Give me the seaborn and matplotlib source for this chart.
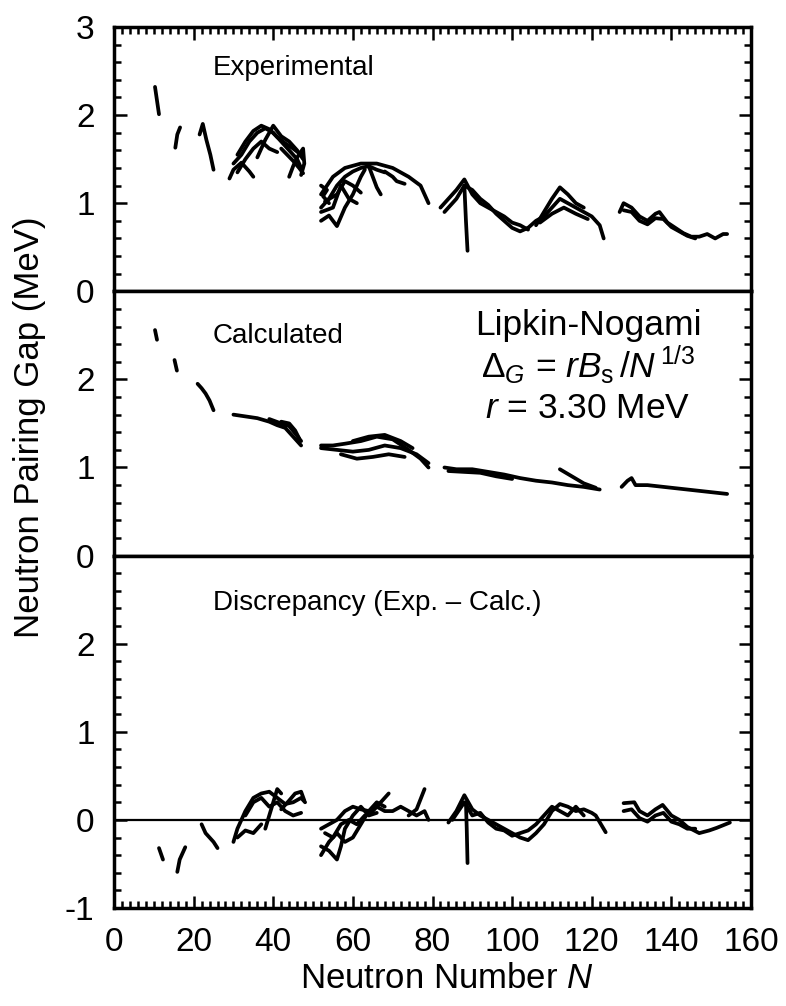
import numpy as np
import pandas as pd
import matplotlib
matplotlib.use("Agg")
import matplotlib.pyplot as plt
import seaborn as sns
from matplotlib.ticker import MultipleLocator

sns.set_theme(style="white")
plt.rcParams['font.family'] = ['Liberation Sans', 'DejaVu Sans']
plt.rcParams['mathtext.fontset'] = 'custom'
plt.rcParams['mathtext.rm'] = 'Liberation Sans'
plt.rcParams['mathtext.it'] = 'Liberation Sans:italic'
plt.rcParams['mathtext.bf'] = 'Liberation Sans:bold'
plt.rcParams['text.color'] = 'black'
plt.rcParams['axes.labelcolor'] = 'black'
plt.rcParams['xtick.color'] = 'black'
plt.rcParams['ytick.color'] = 'black'

# ---------------- data: (N, gap in MeV) ----------------
# Experimental
EXP_1 = [(10.3, 2.32), (11.3, 2.01)]
EXP_2 = [(15.4, 1.63), (15.9, 1.78), (16.6, 1.86)]
EXP_3 = [(21.5, 1.78), (22.3, 1.9), (23.2, 1.72), (24.2, 1.55), (25.0, 1.38)]
EXP_4 = [(30, 1.45), (32, 1.55), (34, 1.7), (36, 1.8), (38, 1.85), (40, 1.8), (42, 1.7), (44, 1.6), (46, 1.5), (47, 1.4)]
EXP_5 = [(31, 1.55), (33, 1.7), (35, 1.82), (37, 1.88), (39, 1.84), (41, 1.75), (43, 1.68), (45, 1.62), (47, 1.55)]
EXP_6 = [(29, 1.28), (30, 1.38), (32, 1.46), (34, 1.36), (35, 1.3)]
EXP_7 = [(36, 1.52), (38, 1.72), (40, 1.88), (42, 1.76), (44, 1.7), (46, 1.6), (47.5, 1.5)]
EXP_8 = [(31, 1.35), (33, 1.5), (35, 1.62), (37, 1.7), (39, 1.62), (41, 1.58)]
EXP_9 = [(44, 1.3), (45, 1.42), (46, 1.52), (47.5, 1.62), (47.8, 1.45), (47, 1.32)]
EXP_9B = [(42, 1.62), (43.5, 1.55), (45, 1.48), (46.5, 1.4), (47.5, 1.34)]
EXP_10 = [(52, 1.1), (55, 1.3), (58, 1.4), (62, 1.45), (66, 1.45), (70, 1.4), (74, 1.3), (77, 1.2), (79, 1.0)]
EXP_11 = [(52, 0.95), (54, 1.05), (56, 1.2), (58, 1.3), (60, 1.36), (62, 1.4), (64, 1.42), (66, 1.38), (68, 1.35)]
EXP_12 = [(52, 0.8), (54, 0.86), (56, 0.74), (58, 0.95), (60, 1.1), (62, 1.3), (63, 1.38)]
EXP_13 = [(52, 0.9), (55, 0.95), (57, 1.2), (59, 1.05), (61, 1.0)]
EXP_14 = [(53, 1.02), (56, 1.1), (58, 1.25), (60, 1.2), (62, 1.12)]
EXP_14B = [(52, 1.2), (53.5, 1.15), (52.5, 1.08), (54, 1.0)]
EXP_15 = [(64, 1.42), (65, 1.3), (66, 1.18), (67, 1.1)]
EXP_16 = [(68, 1.36), (70, 1.3), (71, 1.25), (73, 1.22)]
EXP_17 = [(82, 0.95), (84, 1.05), (86, 1.15), (88, 1.27), (90, 1.1), (92, 1.0), (94, 0.95), (96, 0.9), (98, 0.85), (100, 0.78), (102, 0.75), (104, 0.7)]
EXP_18 = [(83, 0.9), (86, 1.05), (88, 1.2), (90, 1.15), (92, 1.05), (94, 0.98), (96, 0.88), (98, 0.8), (100, 0.72), (102, 0.68), (104, 0.72)]
EXP_19 = [(88, 1.2), (88.4, 0.8), (88.8, 0.46)]
EXP_20 = [(104, 0.72), (106, 0.8), (108, 0.85), (110, 0.95), (112, 1.05), (114, 1.0), (116, 0.95), (118, 0.9), (120, 0.85), (122, 0.75), (123, 0.6)]
EXP_21 = [(106, 0.75), (108, 0.9), (110, 1.05), (112, 1.18), (114, 1.1), (116, 1.0), (118, 0.95)]
EXP_22 = [(107, 0.78), (110, 0.88), (113, 0.95), (116, 0.88), (119, 0.82)]
EXP_23 = [(127, 0.9), (128, 1.0), (130, 0.95), (132, 0.85), (134, 0.8), (136, 0.88), (137, 0.9), (139, 0.78), (141, 0.72), (143, 0.66), (145, 0.62), (147, 0.62), (149, 0.65), (151, 0.6), (153, 0.65), (154, 0.65)]
EXP_24 = [(128, 0.92), (130, 0.9), (132, 0.8), (134, 0.76), (136, 0.83), (138, 0.82), (140, 0.73), (142, 0.68), (144, 0.63), (146, 0.6)]

# Calculated
CAL_1 = [(10.3, 2.56), (10.8, 2.45)]
CAL_2 = [(15.2, 2.22), (15.5, 2.16), (15.8, 2.1)]
CAL_3 = [(21, 1.95), (22, 1.9), (23, 1.84), (24, 1.76), (25, 1.65)]
CAL_4 = [(30, 1.6), (33, 1.58), (36, 1.56), (39, 1.52), (41, 1.48), (43, 1.45), (45, 1.35), (47, 1.25)]
CAL_5 = [(39, 1.55), (42, 1.5), (44, 1.47), (46, 1.36), (47, 1.3)]
CAL_5B = [(42, 1.52), (44, 1.5), (45.5, 1.42), (46.5, 1.33)]
CAL_6 = [(52, 1.25), (55, 1.25), (58, 1.27), (62, 1.3), (66, 1.35), (70, 1.32), (74, 1.2), (77, 1.1), (79, 1.0)]
CAL_7 = [(52, 1.22), (56, 1.2), (60, 1.18), (64, 1.2), (68, 1.25), (72, 1.22), (76, 1.15), (79, 1.05)]
CAL_8 = [(57, 1.15), (61, 1.1), (65, 1.12), (69, 1.15), (73, 1.12)]
CAL_9 = [(60, 1.3), (64, 1.35), (68, 1.37), (72, 1.3), (75, 1.22)]
CAL_10 = [(83, 1.0), (86, 0.98), (90, 0.98), (94, 0.95), (98, 0.92), (102, 0.88), (106, 0.85), (110, 0.83), (114, 0.8), (118, 0.78), (122, 0.75)]
CAL_11 = [(84, 0.96), (88, 0.95), (92, 0.94), (96, 0.9), (100, 0.87)]
CAL_12 = [(112, 0.98), (115, 0.9), (118, 0.82), (121, 0.77)]
CAL_13 = [(127.5, 0.78), (129, 0.85), (130, 0.88), (131, 0.8), (134, 0.8), (138, 0.78), (142, 0.76), (146, 0.74), (150, 0.72), (154, 0.7)]

# Discrepancy (Exp. - Calc.)
DIS_1 = [(11.3, -0.32), (12.3, -0.45)]
DIS_2 = [(15.9, -0.59), (16.5, -0.45), (17.9, -0.31)]
DIS_3 = [(22, -0.05), (23, -0.15), (24, -0.2), (25, -0.25), (26, -0.32)]
DIS_4 = [(30, -0.25), (31, -0.1), (33, 0.1), (35, 0.25), (37, 0.3), (39, 0.32), (41, 0.25), (43, 0.18), (45, 0.2), (47, 0.25), (48, 0.2)]
DIS_5 = [(31, -0.2), (33, -0.12), (35, -0.15), (37, -0.05)]
DIS_6 = [(33, 0.05), (35, 0.2), (37, 0.25), (39, 0.15), (41, 0.2), (43, 0.1), (45, 0.05), (47, 0.08)]
DIS_7 = [(38, -0.1), (39, 0.05), (40, 0.2), (41, 0.35), (42, 0.3)]
DIS_7B = [(42, 0.12), (44, 0.22), (45.5, 0.3), (47, 0.32), (47.8, 0.22)]
DIS_8 = [(52, -0.1), (54, -0.05), (56, 0.0), (58, 0.1), (60, 0.15), (62, 0.12), (64, 0.1), (66, 0.15), (68, 0.1), (70, 0.1), (72, 0.15), (74, 0.1), (76, 0.05), (78, 0.1), (79, 0.0)]
DIS_9 = [(52, -0.3), (54, -0.35), (56, -0.45), (57, -0.3), (58, -0.1), (60, 0.05), (62, 0.15), (64, 0.05), (66, 0.08)]
DIS_10 = [(52, -0.4), (54, -0.25), (56, -0.15), (58, -0.25), (60, -0.2), (62, -0.05), (64, 0.1), (66, 0.2), (68, 0.15)]
DIS_11 = [(53, -0.15), (55, -0.2), (57, -0.05), (59, 0.0), (61, -0.05), (63, 0.05), (65, 0.1), (67, 0.2), (69, 0.3)]
DIS_12 = [(74, 0.05), (76, 0.12), (78, 0.35)]
DIS_13 = [(84, -0.03), (86, 0.1), (88, 0.28), (90, 0.12), (92, 0.05), (94, 0.0), (96, -0.05), (98, -0.1), (100, -0.15), (102, -0.2), (104, -0.23), (106, -0.15), (108, -0.05), (110, 0.1), (112, 0.18), (114, 0.15), (116, 0.1), (118, 0.12), (120, 0.08), (121, 0.05), (123.5, -0.14)]
DIS_14 = [(85, 0.0), (88, 0.2), (90, 0.05), (92, 0.08), (94, -0.03), (96, -0.1), (98, -0.12), (100, -0.18), (102, -0.15), (104, -0.12), (106, -0.05), (108, 0.05), (110, 0.15), (112, 0.1), (114, 0.05), (116, 0.15), (118, 0.05)]
DIS_15 = [(88.4, 0.2), (88.6, -0.1), (88.8, -0.49)]
DIS_16 = [(128, 0.19), (130.7, 0.2), (132, 0.1), (134, 0.05), (136, 0.12), (137.8, 0.17), (140, 0.05), (142, 0.0), (144, -0.08), (147, -0.15), (149.5, -0.12), (151.4, -0.09), (154.7, -0.03)]
DIS_17 = [(128, 0.1), (130, 0.12), (132, 0.02), (134, -0.02), (136, 0.05), (138, 0.08), (140, -0.02), (142, -0.05), (144, -0.1), (146, -0.1)]

EXP_CURVES = [EXP_1, EXP_2, EXP_3, EXP_4, EXP_5, EXP_6, EXP_7, EXP_8, EXP_9, EXP_9B, EXP_10, EXP_11, EXP_12,
              EXP_13, EXP_14, EXP_14B, EXP_15, EXP_16, EXP_17, EXP_18, EXP_19, EXP_20, EXP_21, EXP_22,
              EXP_23, EXP_24]
CAL_CURVES = [CAL_1, CAL_2, CAL_3, CAL_4, CAL_5, CAL_5B, CAL_6, CAL_7, CAL_8, CAL_9, CAL_10, CAL_11,
              CAL_12, CAL_13]
DIS_CURVES = [DIS_1, DIS_2, DIS_3, DIS_4, DIS_5, DIS_6, DIS_7, DIS_7B, DIS_8, DIS_9, DIS_10, DIS_11,
              DIS_12, DIS_13, DIS_14, DIS_15, DIS_16, DIS_17]

X_TICKS = [0, 20, 40, 60, 80, 100, 120, 140, 160]


def to_frame(curves):
    rows = []
    for i, c in enumerate(curves):
        for n, g in c:
            rows.append({"N": n, "gap": g, "chain": i})
    return pd.DataFrame(rows)


W, H = 786, 1006
fig = plt.figure(figsize=(W / 100, H / 100), dpi=100)
gs = fig.add_gridspec(3, 1, height_ratios=[3, 3, 4], hspace=0,
                      left=114 / W, right=751 / W, bottom=1 - 908 / H, top=1 - 27 / H)
axes = [fig.add_subplot(gs[i]) for i in range(3)]

LW = 2.7
for ax, curves, ylim in zip(axes, [EXP_CURVES, CAL_CURVES, DIS_CURVES], [(0, 3), (0, 3), (-1, 3)]):
    df = to_frame(curves)
    sns.lineplot(data=df, x="N", y="gap", units="chain", estimator=None, sort=False,
                 color="black", lw=LW, ax=ax, legend=False)
    ax.set_xlim(0, 160)
    ax.set_ylim(*ylim)
    ax.set_xlabel("")
    ax.set_ylabel("")
    for s in ax.spines.values():
        s.set_color("black")
        s.set_linewidth(2.5)
    ax.yaxis.set_major_locator(MultipleLocator(1))
    ax.yaxis.set_minor_locator(MultipleLocator(0.2))
    ax.xaxis.set_major_locator(MultipleLocator(20))
    ax.xaxis.set_minor_locator(MultipleLocator(2))
    ax.tick_params(axis="y", which="both", direction="in", left=True, right=True,
                   labelsize=24, pad=14, width=1.8, colors="black")
    ax.tick_params(axis="y", which="major", length=9)
    ax.tick_params(axis="y", which="minor", length=5)
    ax.tick_params(axis="x", which="both", direction="in", width=1.8, colors="black",
                   labelsize=24, pad=14)
    ax.tick_params(axis="x", which="major", length=9)
    ax.tick_params(axis="x", which="minor", length=5)
    ax.set_facecolor("white")

# x ticks: top frame on top panel, bottom frame on bottom panel
axes[0].tick_params(axis="x", which="both", top=True, bottom=False, labelbottom=False, labeltop=False)
axes[1].tick_params(axis="x", which="both", top=False, bottom=False, labelbottom=False)
axes[2].tick_params(axis="x", which="both", top=False, bottom=True, labelbottom=True)
axes[2].set_xticks(X_TICKS)
axes[2].set_xticklabels([str(t) for t in X_TICKS])

axes[0].set_yticks([0, 1, 2, 3])
axes[0].set_yticklabels(["0", "1", "2", "3"])
axes[1].set_yticks([0, 1, 2, 3])
axes[1].set_yticklabels(["0", "1", "2", ""])
axes[2].set_yticks([-1, 0, 1, 2, 3])
axes[2].set_yticklabels(["-1", "0", "1", "2", ""])

axes[2].axhline(0, color="black", lw=1.6, zorder=1)


def ftxt(x, y, s, **kw):
    fig.text(x / W, 1 - y / H, s, color="black", **kw)


ftxt(213, 68, "Experimental", fontsize=20, ha="left", va="center")
ftxt(213, 336, "Calculated", fontsize=20, ha="left", va="center")
ftxt(213, 603, "Discrepancy (Exp. \u2013 Calc.)", fontsize=20, ha="left", va="center")
ftxt(588, 326, "Lipkin-Nogami", fontsize=25.5, ha="center", va="center")
ftxt(588, 365, r"$\Delta_G$ = $rB_\mathregular{s}\,/N^{\,1/3}$", fontsize=25.5, ha="center", va="center")
ftxt(588, 409, r"$r$ = 3.30 MeV", fontsize=25.5, ha="center", va="center")

ftxt(447, 978, r"Neutron Number $N$", fontsize=25, ha="center", va="center")
ftxt(30, 427, "Neutron Pairing Gap (MeV)", fontsize=25, ha="center", va="center", rotation=90)

fig.savefig("out.png", dpi=100, facecolor="white")
